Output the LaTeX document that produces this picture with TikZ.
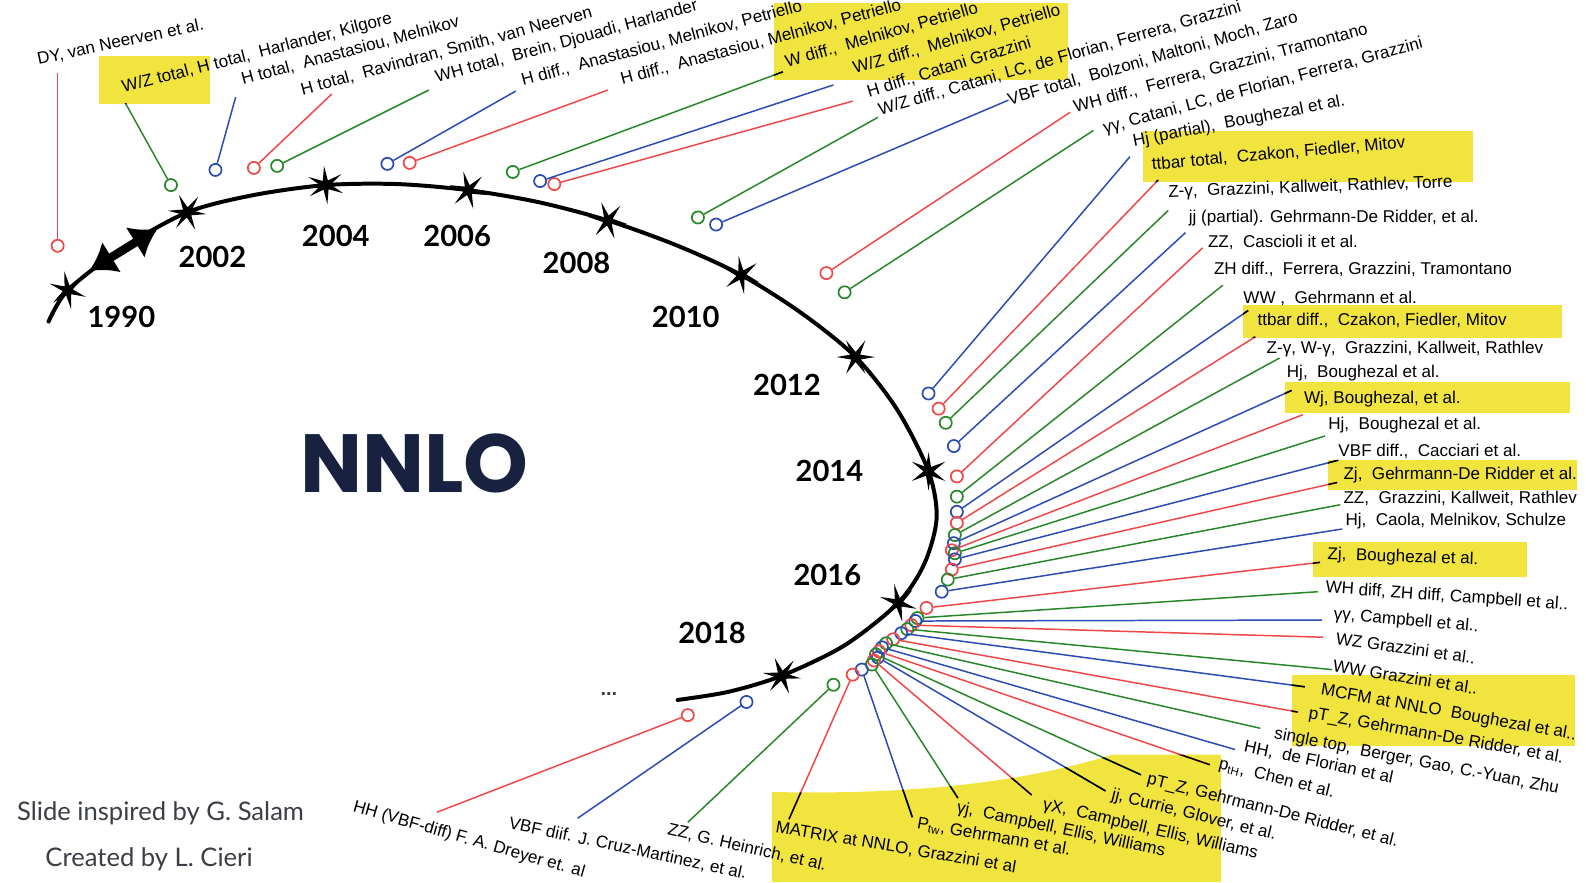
\documentclass[tikz,border=0pt]{standalone}
\usepackage{fontspec}
\setmainfont{Liberation Sans}
\newfontfamily\yearfont{Lato}
\newfontfamily\titlefont{Poppins}
\usetikzlibrary{shapes.geometric, arrows.meta}

\definecolor{lred}{RGB}{240,72,72}
\definecolor{lgreen}{RGB}{40,135,40}
\definecolor{lblue}{RGB}{42,76,180}
\definecolor{hilite}{RGB}{242,228,62}
\definecolor{navy}{RGB}{24,34,64}
\definecolor{footgray}{RGB}{60,62,70}

\tikzset{
  ring/.style={circle, draw=#1, line width=1.2pt, minimum size=0.3cm, inner sep=0pt},
  conn/.style={line width=1.05pt},
  lbl/.style={anchor=base west, inner sep=0pt, font=\fontsize{12}{14}\selectfont},
  yearlbl/.style={font=\yearfont\bfseries\fontsize{20.5}{24}\selectfont},
  tstar/.style={star, star points=6, star point ratio=3.8, fill=black, minimum size=0.95cm, inner sep=0pt},
  hl/.style={fill=hilite},
  timeline/.style={line width=2.8pt, line cap=round},
}

\begin{document}
\begin{tikzpicture}[x=0.025cm, y=-0.025cm, >=Latex]
  \useasboundingbox (0,0) rectangle (1568,872);

  % highlights
  \fill[hl] (98,55) rectangle (208,103);
  \fill[hl] (765,3) rectangle (1056,79);
  \fill[hl] (1130,130) rectangle (1456,180);
  \fill[hl] (1229,302) rectangle (1544,334);
  \fill[hl] (1270,378) rectangle (1552,408);
  \fill[hl] (1313,455) rectangle (1559,484);
  \fill[hl] (1298,536) rectangle (1510,570);
  \fill[hl] (1277,667) rectangle (1557,738);
  \fill[hl] (763,872) -- (763,783) .. controls (900,786) and (1010,774) .. (1100,746) -- (1207,746) -- (1207,872) -- cycle;

  % time line
  \draw[timeline] plot[smooth, tension=0.5] coordinates {(48,318) (67,287) (120,246) (185,210) (250,193) (322,183) (393,182) (463,188) (533,200) (601,218) (670,243) (733,272) (793,310) (846,353) (887,405) (918,466) (926,512) (914,557) (888,596) (835,638) (773,668) (720,684) (670,692)};
  \draw[line width=6pt, {Latex[length=0.65cm, width=0.9cm]}-{Latex[length=0.65cm, width=0.9cm]}] (88,268) -- (156,226);

  \node[tstar, rotate=10] (s1990) at (67,287) {};
  \node[tstar, rotate=25] (s2002) at (185,210) {};
  \node[tstar, rotate=5] (s2004) at (322,183) {};
  \node[tstar, rotate=15] (s2006) at (463,188) {};
  \node[tstar, rotate=20] (s2008) at (601,218) {};
  \node[tstar, rotate=8] (s2010) at (733,272) {};
  \node[tstar, rotate=30] (s2012) at (846,353) {};
  \node[tstar] (s2014) at (918,466) {};
  \node[tstar, rotate=12] (s2016) at (888,596) {};
  \node[tstar, rotate=22] (s2018) at (773,668) {};

  \node[yearlbl] (y1990) at (120,313) {1990};
  \node[yearlbl] (y2002) at (210,254) {2002};
  \node[yearlbl] (y2004) at (332,233) {2004};
  \node[yearlbl] (y2006) at (452,233) {2006};
  \node[yearlbl] (y2008) at (570,260) {2008};
  \node[yearlbl] (y2010) at (678,313) {2010};
  \node[yearlbl] (y2012) at (778,381) {2012};
  \node[yearlbl] (y2014) at (820,466) {2014};
  \node[yearlbl] (y2016) at (818,568) {2016};
  \node[yearlbl] (y2018) at (704,626) {2018};

  \node[font=\titlefont\bfseries\fontsize{58}{64}\selectfont, text=navy] (nnlo) at (410,458) {NNLO};
  \node[font=\bfseries\fontsize{14}{16}\selectfont, text=footgray] (more) at (602,686) {...};

  % markers
  \node[ring=lred] (c1) at (57,243) {};
  \node[ring=lgreen] (c2) at (169,183) {};
  \node[ring=lblue] (c3) at (213,168) {};
  \node[ring=lred] (c4) at (251,166) {};
  \node[ring=lgreen] (c5) at (274,164) {};
  \node[ring=lblue] (c6) at (383,162) {};
  \node[ring=lred] (c7) at (405,161) {};
  \node[ring=lgreen] (c8) at (507,170) {};
  \node[ring=lblue] (c9) at (534,179) {};
  \node[ring=lred] (c10) at (548,182) {};
  \node[ring=lgreen] (c11) at (690,215) {};
  \node[ring=lblue] (c12) at (708,222) {};
  \node[ring=lred] (c13) at (817,270) {};
  \node[ring=lgreen] (c14) at (835,289) {};
  \node[ring=lblue] (c15) at (918,389) {};
  \node[ring=lred] (c16) at (928,404) {};
  \node[ring=lgreen] (c17) at (935,418) {};
  \node[ring=lblue] (c18) at (943,441) {};
  \node[ring=lred] (c19) at (946,471) {};
  \node[ring=lgreen] (c20) at (946,491) {};
  \node[ring=lblue] (c21) at (946,506) {};
  \node[ring=lred] (c22) at (946,517) {};
  \node[ring=lgreen] (c23) at (944,529) {};
  \node[ring=lblue] (c24) at (943,537) {};
  \node[ring=lred] (c25) at (941,544) {};
  \node[ring=lgreen] (c26) at (944,547) {};
  \node[ring=lblue] (c27) at (944,553) {};
  \node[ring=lred] (c28) at (941,563) {};
  \node[ring=lgreen] (c29) at (937,573) {};
  \node[ring=lblue] (c30) at (931,585) {};
  \node[ring=lred] (c31) at (916,601) {};
  \node[ring=lgreen] (c32) at (907,611) {};
  \node[ring=lblue] (c33) at (905,614) {};
  \node[ring=lred] (c34) at (901,618) {};
  \node[ring=lgreen] (c35) at (897,622) {};
  \node[ring=lblue] (c36) at (891,626) {};
  \node[ring=lred] (c37) at (883,632) {};
  \node[ring=lgreen] (c38) at (876,636) {};
  \node[ring=lblue] (c39) at (872,640) {};
  \node[ring=lred] (c40) at (869,644) {};
  \node[ring=lgreen] (c41) at (866,647) {};
  \node[ring=lblue] (c42) at (868,650) {};
  \node[ring=lred] (c43) at (864,653) {};
  \node[ring=lgreen] (c44) at (862,657) {};
  \node[ring=lblue] (c45) at (852,662) {};
  \node[ring=lred] (c46) at (843,667) {};
  \node[ring=lgreen] (c47) at (824,677) {};
  \node[ring=lblue] (c48) at (738,694) {};
  \node[ring=lred] (c49) at (680,707) {};

  % line ends
  \coordinate (e1) at (57,72);
  \coordinate (e2) at (124,102);
  \coordinate (e3) at (233,96);
  \coordinate (e4) at (328,93);
  \coordinate (e5) at (424,89);
  \coordinate (e6) at (510,90);
  \coordinate (e7) at (601,89);
  \coordinate (e8) at (774,71);
  \coordinate (e9) at (824,84);
  \coordinate (e10) at (843,100);
  \coordinate (e11) at (868,116);
  \coordinate (e12) at (997,99);
  \coordinate (e13) at (1058,111);
  \coordinate (e14) at (1081,129);
  \coordinate (e15) at (1117,155);
  \coordinate (e16) at (1145,178);
  \coordinate (e17) at (1155,208);
  \coordinate (e18) at (1172,230);
  \coordinate (e19) at (1189,245);
  \coordinate (e20) at (1209,282);
  \coordinate (e21) at (1234,307);
  \coordinate (e22) at (1241,333);
  \coordinate (e23) at (1265,354);
  \coordinate (e24) at (1277,386);
  \coordinate (e25) at (1288,410);
  \coordinate (e26) at (1310,431);
  \coordinate (e27) at (1323,455);
  \coordinate (e28) at (1322,477);
  \coordinate (e29) at (1325,499);
  \coordinate (e30) at (1327,523);
  \coordinate (e31) at (1305,556);
  \coordinate (e32) at (1303,585);
  \coordinate (e33) at (1307,613);
  \coordinate (e34) at (1308,630);
  \coordinate (e35) at (1317,662);
  \coordinate (e36) at (1290,679);
  \coordinate (e37) at (1283,704);
  \coordinate (e38) at (1246,720);
  \coordinate (e39) at (1221,741);
  \coordinate (e40) at (1196,756);
  \coordinate (e41) at (1128,766);
  \coordinate (e42) at (1093,782);
  \coordinate (e43) at (1020,786);
  \coordinate (e44) at (947,789);
  \coordinate (e45) at (902,808);
  \coordinate (e46) at (780,810);
  \coordinate (e47) at (680,813);
  \coordinate (e48) at (571,809);
  \coordinate (e49) at (432,803);

  % connectors
  \foreach \i in {1,4,...,49} \draw[conn, lred] (c\i) -- (e\i);
  \foreach \i in {2,5,...,47} \draw[conn, lgreen] (c\i) -- (e\i);
  \foreach \i in {3,6,...,48} \draw[conn, lblue] (c\i) -- (e\i);
  \begin{scope}
    \clip (98,55) rectangle (208,103) (765,3) rectangle (1056,79) (1130,130) rectangle (1456,180)
      (1229,302) rectangle (1544,334) (1270,378) rectangle (1552,408) (1313,455) rectangle (1559,484)
      (1298,536) rectangle (1510,570) (1277,667) rectangle (1557,738)
      (763,872) -- (763,783) .. controls (900,786) and (1010,774) .. (1100,746) -- (1207,746) -- (1207,872) -- cycle;
    \foreach \i in {1,...,49} \draw[conn, black] (c\i) -- (e\i);
  \end{scope}

  % labels
  \node[lbl, rotate=12] (l1) at (38,64) {DY, van Neerven et al.};
  \node[lbl, rotate=14.5] (l2) at (122,92) {W/Z total, H total,\ \ Harlander, Kilgore};
  \node[lbl, rotate=15] (l3) at (240,84) {H total,\ \ Anastasiou, Melnikov};
  \node[lbl, rotate=15] (l4) at (299,94) {H total,\ \ Ravindran, Smith, van Neerven};
  \node[lbl, rotate=15.5] (l5) at (432,82) {WH total,\ \ Brein, Djouadi, Harlander};
  \node[lbl, rotate=15] (l6) at (517,85) {H diff.,\ \ Anastasiou, Melnikov, Petriello};
  \node[lbl, rotate=15] (l7) at (615,84) {H diff.,\ \ Anastasiou, Melnikov, Petriello};
  \node[lbl, rotate=16] (l8) at (778,67) {W diff.,\ \ Melnikov, Petriello};
  \node[lbl, rotate=16] (l9) at (845,73) {W/Z diff.,\ \ Melnikov, Petriello};
  \node[lbl, rotate=17] (l10) at (859,96) {H diff., Catani Grazzini};
  \node[lbl, rotate=16] (l11) at (870,114) {W/Z diff., Catani, LC, de Florian, Ferrera, Grazzini};
  \node[lbl, rotate=16] (l12) at (998,104) {VBF total,\ \ Bolzoni, Maltoni, Moch, Zaro};
  \node[lbl, rotate=15] (l13) at (1063,111) {WH diff.,\ \ Ferrera, Grazzini, Tramontano};
  \node[lbl, rotate=15] (l14) at (1092,132) {γγ, Catani, LC, de Florian, Ferrera, Grazzini};
  \node[lbl, rotate=11] (l15) at (1121,145) {Hj (partial),\ \ Boughezal et al.};
  \node[lbl, rotate=5] (l16) at (1139,168) {ttbar total,\ \ Czakon, Fiedler, Mitov};
  \node[lbl, rotate=2] (l17) at (1155,195) {Z-γ,\ \ Grazzini, Kallweit, Rathlev, Torre};
  \node[lbl] (l18) at (1175,220) {jj (partial). Gehrmann-De Ridder, et al.};
  \node[lbl] (l19) at (1194,245) {ZZ,\ \ Cascioli it et al.};
  \node[lbl] (l20) at (1200,271) {ZH diff.,\ \ Ferrera, Grazzini, Tramontano};
  \node[lbl] (l21) at (1229,300) {WW ,\ \ Gehrmann et al.};
  \node[lbl] (l22) at (1243,322) {ttbar diff.,\ \ Czakon, Fiedler, Mitov};
  \node[lbl] (l23) at (1252,349) {Z-γ, W-γ,\ \ Grazzini, Kallweit, Rathlev};
  \node[lbl] (l24) at (1272,373) {Hj,\ \ Boughezal et al.};
  \node[lbl] (l25) at (1289,399) {Wj, Boughezal, et al.};
  \node[lbl] (l26) at (1313,425) {Hj,\ \ Boughezal et al.};
  \node[lbl] (l27) at (1323,451) {VBF diff.,\ \ Cacciari et al.};
  \node[lbl] (l28) at (1328,474) {Zj,\ \ Gehrmann-De Ridder et al.};
  \node[lbl] (l29) at (1328,498) {ZZ,\ \ Grazzini, Kallweit, Rathlev};
  \node[lbl] (l30) at (1330,520) {Hj,\ \ Caola, Melnikov, Schulze};
  \node[lbl, rotate=-2] (l31) at (1312,553) {Zj,\ \ Boughezal et al.};
  \node[lbl, rotate=-4] (l32) at (1310,586) {WH diff, ZH diff, Campbell et al..};
  \node[lbl, rotate=-5] (l33) at (1318,612) {γγ, Campbell et al..};
  \node[lbl, rotate=-8] (l34) at (1320,637) {WZ Grazzini et al..};
  \node[lbl, rotate=-9] (l35) at (1317,664) {WW Grazzini et al..};
  \node[lbl, rotate=-10] (l36) at (1305,687) {MCFM at NNLO\ \ Boughezal et al..};
  \node[lbl, rotate=-10] (l37) at (1293,710) {pT\_Z, Gehrmann-De Ridder, et al.};
  \node[lbl, rotate=-11] (l38) at (1259,730) {single top,\ \ Berger, Gao, C.-Yuan, Zhu};
  \node[lbl, rotate=-12] (l39) at (1229,743) {HH,\ \ de Florian et al};
  \node[lbl, rotate=-14] (l40) at (1204,760) {p\textsubscript{tH},\ \ Chen et al.};
  \node[lbl, rotate=-14] (l41) at (1133,775) {pT\_Z, Gehrmann-De Ridder, et al.};
  \node[lbl, rotate=-14] (l42) at (1098,790) {jj, Currie, Glover, et al.};
  \node[lbl, rotate=-13] (l43) at (1030,800) {γX,\ \ Campbell, Ellis, Williams};
  \node[lbl, rotate=-12] (l44) at (945,803) {γj,\ \ Campbell, Ellis, Williams};
  \node[lbl, rotate=-10] (l45) at (906,819) {P\textsubscript{tw}, Gehrmann et al.};
  \node[lbl, rotate=-9.5] (l46) at (766,823) {MATRIX at NNLO, Grazzini et al};
  \node[lbl, rotate=-13] (l47) at (659,825) {ZZ, G. Heinrich, et al.};
  \node[lbl, rotate=-12] (l48) at (502,819) {VBF diif. J. Cruz-Martinez, et al.};
  \node[lbl, rotate=-16] (l49) at (348,802) {HH (VBF-diff) F. A. Dreyer et. al};

  % credits
  \node[anchor=west, font=\yearfont\fontsize{18}{21}\selectfont, text=footgray] (insp) at (12,804) {Slide inspired by G. Salam};
  \node[anchor=west, font=\yearfont\fontsize{18}{21}\selectfont, text=footgray] (made) at (40,850) {Created by L. Cieri};
\end{tikzpicture}
\end{document}
